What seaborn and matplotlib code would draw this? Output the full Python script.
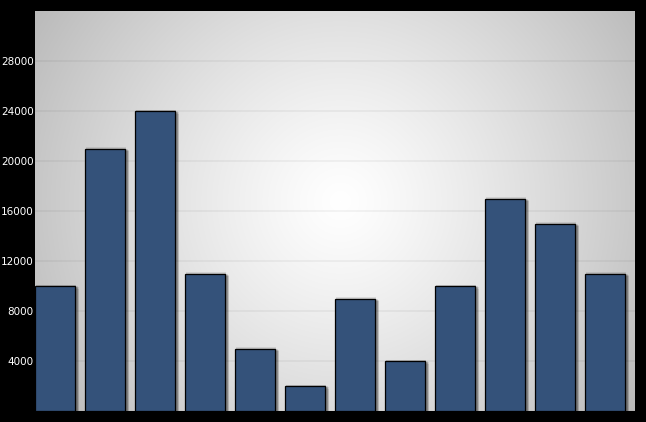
import numpy as np
import pandas as pd
import seaborn as sns
import matplotlib.pyplot as plt
import matplotlib.patheffects as pe

############################################################### Data

categories = ["A", "B", "C", "D", "E", "F", "G", "H", "I", "J", "K", "L"]
values = [10000, 21000, 24000, 11000, 5000, 2000, 9000, 4000, 10000, 17000, 15000, 11000]
y_ticks = [4000, 8000, 12000, 16000, 20000, 24000, 28000]

df = pd.DataFrame({"cat": categories, "val": values})

############################################################### Figure

sns.set_style("white")
fig = plt.figure(figsize=(6.46, 4.22), dpi=100, facecolor="black")
ax = fig.add_axes([35 / 646, 11 / 422, 600 / 646, 400 / 422])
ax.set_facecolor("#c0c0c0")

# radial gradient background (pixel space)
w, h = 600, 400
yy, xx = np.mgrid[0:h, 0:w]
dist = np.sqrt((xx - 305) ** 2 + (yy - 190) ** 2) / 360.0
shade = 1.0 - 0.27 * np.clip(dist, 0, 1.2) ** 1.2
img = np.dstack([shade, shade, shade])
ax.imshow(img, extent=(-0.4, 11.6, 0, 32000), aspect="auto", zorder=0,
          interpolation="bilinear")

for t in [0] + y_ticks:
    ax.axhline(t, color="black", alpha=0.05, lw=1.2, zorder=1)

sns.barplot(data=df, x="cat", y="val", color="#34527a", saturation=1,
            edgecolor="black", linewidth=0.9, width=0.8, ax=ax, zorder=3)

# soft drop shadow, built from several faint offset copies
shadows = [pe.SimplePatchShadow(offset=(dx, dy), shadow_rgbFace="black", alpha=0.09)
           for dx, dy in [(0.5, 0.5), (1, 0), (1.5, -0.5), (2, -1), (2.5, -1.5),
                          (3, -1), (1, 1), (2, 0), (3, -2)]]
for p in ax.patches:
    p.set_path_effects(shadows + [pe.Normal()])

ax.set_xlim(-0.4, 11.6)
ax.set_ylim(0, 32000)
ax.set_yticks(y_ticks)
ax.set_yticklabels([str(t) for t in y_ticks], color="white", fontsize=7.5)
ax.tick_params(axis="y", length=0, pad=1)
ax.set_xticks([])
ax.set_xlabel("")
ax.set_ylabel("")
for s in ax.spines.values():
    s.set_visible(False)

plt.savefig("out.png", dpi=100, facecolor="black")
